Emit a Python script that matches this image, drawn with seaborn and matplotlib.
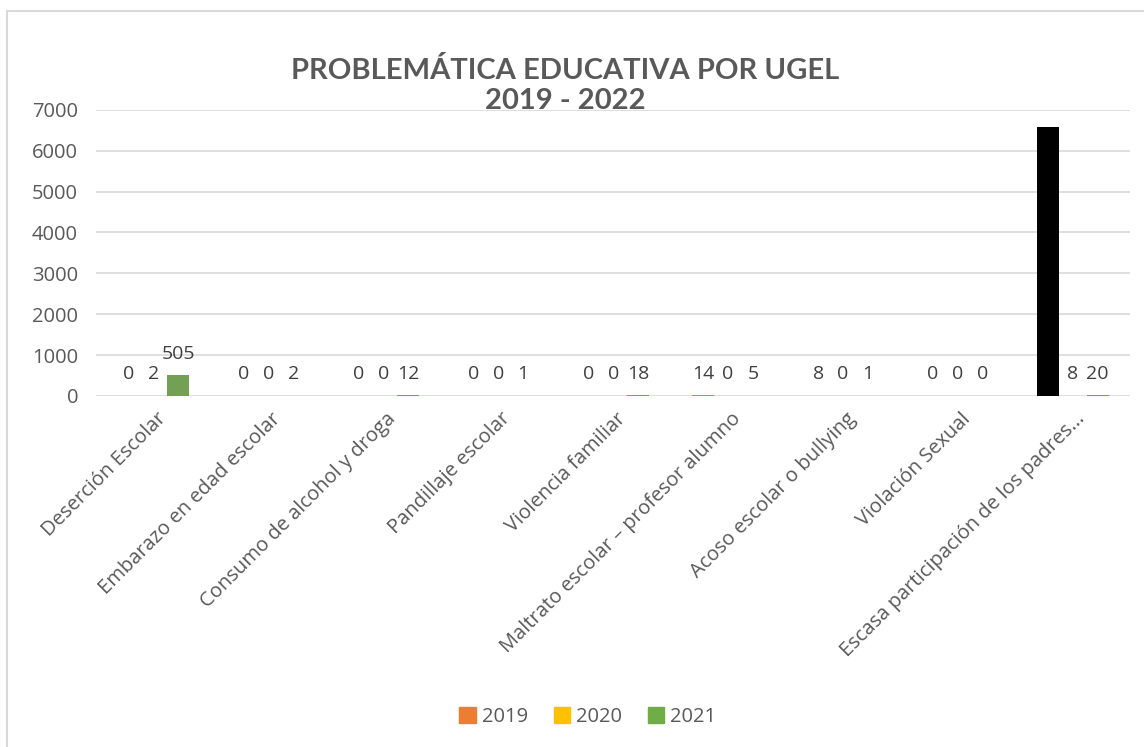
import matplotlib
matplotlib.use("Agg")
import matplotlib.pyplot as plt
import matplotlib.patches as mpatches
from matplotlib.transforms import ScaledTranslation
import seaborn as sns
import pandas as pd

categorias = [
    "Deserción Escolar",
    "Embarazo en edad escolar",
    "Consumo de alcohol y droga",
    "Pandillaje escolar",
    "Violencia familiar",
    "Maltrato escolar – profesor alumno",
    "Acoso escolar o bullying",
    "Violación Sexual",
    "Escasa participación de los padres...",
]
anios = ["2019", "2020", "2021"]
v2019 = [0, 0, 0, 0, 0, 14, 8, 0, 6580]
v2020 = [2, 0, 0, 0, 0, 0, 0, 0, 8]
v2021 = [505, 2, 12, 1, 18, 5, 1, 0, 20]
colores = ["#ED7D31", "#FFC000", "#70AD47"]

df = pd.DataFrame({
    "categoria": categorias * 3,
    "anio": [a for a in anios for _ in categorias],
    "valor": v2019 + v2020 + v2021,
})

sns.set_style("white")
plt.rcParams["font.family"] = ["Open Sans", "DejaVu Sans"]
gris = "#595959"

fig = plt.figure(figsize=(11.44, 7.47), dpi=100)
ax = fig.add_axes([0.084, 0.470, 0.904, 0.383])

sns.barplot(data=df, x="categoria", y="valor", hue="anio", palette=colores,
            width=0.65, gap=0.12, linewidth=0, ax=ax, legend=False)

# the big 2019 bar of the last category is black in the original
ax.containers[0][8].set_facecolor("black")

for i, cont in enumerate(ax.containers):
    for j, bar in enumerate(cont):
        if i == 0 and j == 8:
            continue
        h = bar.get_height()
        ax.annotate(f"{int(h)}", (bar.get_x() + bar.get_width() / 2, h),
                    xytext=(0, 9), textcoords="offset points",
                    ha="center", va="bottom", fontsize=14, color="#404040")

ax.set_ylim(0, 7000)
ax.set_yticks(range(0, 7001, 1000))
ax.grid(axis="y", color="#D9D9D9", linewidth=1.2)
ax.set_axisbelow(True)
for s in ax.spines.values():
    s.set_visible(False)
ax.tick_params(axis="both", length=0, labelsize=14.5, colors=gris)
ax.set_xlabel("")
ax.set_ylabel("")
ax.set_xticks(range(len(categorias)))
ax.set_xticklabels(categorias, rotation=45, ha="right", va="baseline",
                   rotation_mode="anchor")
ax.tick_params(axis="x", pad=17)
ax.tick_params(axis="y", pad=13)
shift = ScaledTranslation(13 / 100, 0, fig.dpi_scale_trans)
for lbl in ax.get_xticklabels():
    lbl.set_transform(lbl.get_transform() + shift)

titulo_font = ["Lato", "DejaVu Sans"]
fig.text(0.494, 0.906, "PROBLEMÁTICA EDUCATIVA POR UGEL", ha="center", va="center",
         fontsize=21, fontweight="bold", color=gris, family=titulo_font)
fig.text(0.494, 0.865, "2019 - 2022", ha="center", va="center",
         fontsize=21, fontweight="bold", color=gris, family=titulo_font)

handles = [mpatches.Patch(color=c, label=a) for c, a in zip(colores, anios)]
fig.legend(handles=handles, loc="center", bbox_to_anchor=(0.514, 0.040), ncol=3,
           frameon=False, fontsize=14.5, handlelength=0.8, handleheight=0.8,
           handletextpad=0.3, columnspacing=1.3, labelcolor=gris)

fig.patches.append(mpatches.Rectangle((0.006, -0.1), 1.2, 1.085,
                                      transform=fig.transFigure, fill=False,
                                      edgecolor="#D9D9D9", linewidth=1.5))

fig.savefig("out.png", dpi=100)
